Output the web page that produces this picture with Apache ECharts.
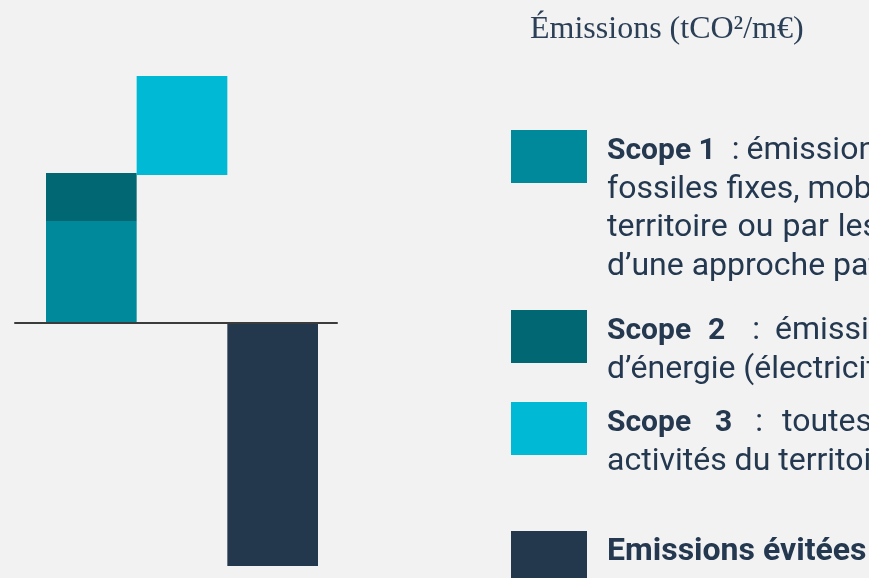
<!DOCTYPE html>
<html>
<head>
<meta charset="utf-8">
<script src="https://cdn.jsdelivr.net/npm/echarts@6/dist/echarts.min.js"></script>
<style>
  html, body { margin: 0; padding: 0; background: #f2f2f2; }
  #chart { width: 869px; height: 578px; }
</style>
</head>
<body>
<div id="chart"></div>
<script>
// catégories de la cascade
const categories = ["Scope 1 + 2", "Scope 3", "Evitées"];
// valeurs (tCO2/m€)
const scope1 = [10.2, "-", "-"];
const scope2 = [4.8, "-", "-"];
const baseScope3 = ["-", 14.8, "-"]; // socle invisible de la cascade
const scope3 = ["-", 9.9, "-"];
const evitees = ["-", "-", -24.3];

const colors = ["#00899b", "#006773", "#00b9d4", "#23384d"];
const textColor = "#243850";

// textes de la légende (coupés à droite comme sur l'original, texte justifié => espaces élargis)
const legendTexts = [
  "{b|Scope 1}{g16| }:{g7| }émissions directes issues de la combustion\nfossiles fixes, mobiles et des procédés du\nterritoire{g10| }ou{g9| }par{g9| }les activités du territoire\nd’une approche patrimoniale",
  "{b|Scope}{g17| }{b|2}{g27| }:{g15| }émissions indirectes liées à la consommation\nd’énergie (électricité, chaleur, froid)",
  "{b|Scope}{g24| }{b|3}{g23| }:{g19| }toutes les émissions indirectes liées aux\nactivités du territoire",
  "{e|Emissions évitées}",
];
const legendTops = [130, 310, 402, 531];

// blocs d'espacement de largeur fixe
let rich = {
  b: { fontWeight: "bold", fontSize: 30, fontFamily: "Roboto", fill: textColor, lineHeight: 38.5 },
  e: { fontWeight: "bold", fontSize: 32, fontFamily: "Roboto", fill: textColor, lineHeight: 38.5 },
};
[7, 9, 10, 15, 16, 17, 19, 23, 24, 27].forEach((w) => {
  rich["g" + w] = { width: w, fontSize: 32, lineHeight: 38.5 };
});

let mychart = echarts.init(document.getElementById("chart"));

let graphics = [
  {
    type: "text",
    left: 530,
    top: 14,
    style: {
      text: "Émissions (tCO²/m€)",
      fill: "#2b3f56",
      font: "32px 'Liberation Serif'",
    },
  },
];
legendTexts.forEach((t, i) => {
  graphics.push({
    type: "rect",
    left: 511,
    top: legendTops[i],
    shape: { width: 76, height: 53 },
    style: { fill: colors[i] },
  });
  graphics.push({
    type: "text",
    left: 607,
    top: legendTops[i] + 2,
    style: {
      text: t,
      fill: textColor,
      font: "32px Roboto",
      lineHeight: 38.5,
      rich: rich,
    },
  });
});

mychart.setOption({
  backgroundColor: "#f2f2f2",
  animation: false,
  grid: [
    // grille des barres
    { left: 46, width: 272, top: 73, height: 500 },
    // grille qui ne sert qu'à la ligne de base, plus large
    { left: 15, width: 322, top: 73, height: 500 },
  ],
  xAxis: [
    {
      type: "category",
      data: categories,
      gridIndex: 0,
      axisLine: { show: false },
      axisTick: { show: false },
      axisLabel: { show: false },
    },
    {
      type: "value",
      gridIndex: 1,
      min: 0,
      max: 1,
      z: 10,
      axisLine: { show: true, onZero: true, lineStyle: { color: "#3b3b3b", width: 2 } },
      axisTick: { show: false },
      axisLabel: { show: false },
      splitLine: { show: false },
    },
  ],
  yAxis: [
    { type: "value", gridIndex: 0, min: -25, max: 25, show: false },
    { type: "value", gridIndex: 1, min: -25, max: 25, show: false },
  ],
  series: [
    { name: "Scope 1", type: "bar", stack: "total", barCategoryGap: "0%", data: scope1, itemStyle: { color: colors[0] } },
    { name: "Scope 2", type: "bar", stack: "total", data: scope2, itemStyle: { color: colors[1] } },
    { name: "base", type: "bar", stack: "total", data: baseScope3, itemStyle: { color: "transparent" }, silent: true },
    { name: "Scope 3", type: "bar", stack: "total", data: scope3, itemStyle: { color: colors[2] } },
    { name: "Emissions évitées", type: "bar", stack: "total", data: evitees, itemStyle: { color: colors[3] } },
  ],
  graphic: graphics,
});
</script>
</body>
</html>
